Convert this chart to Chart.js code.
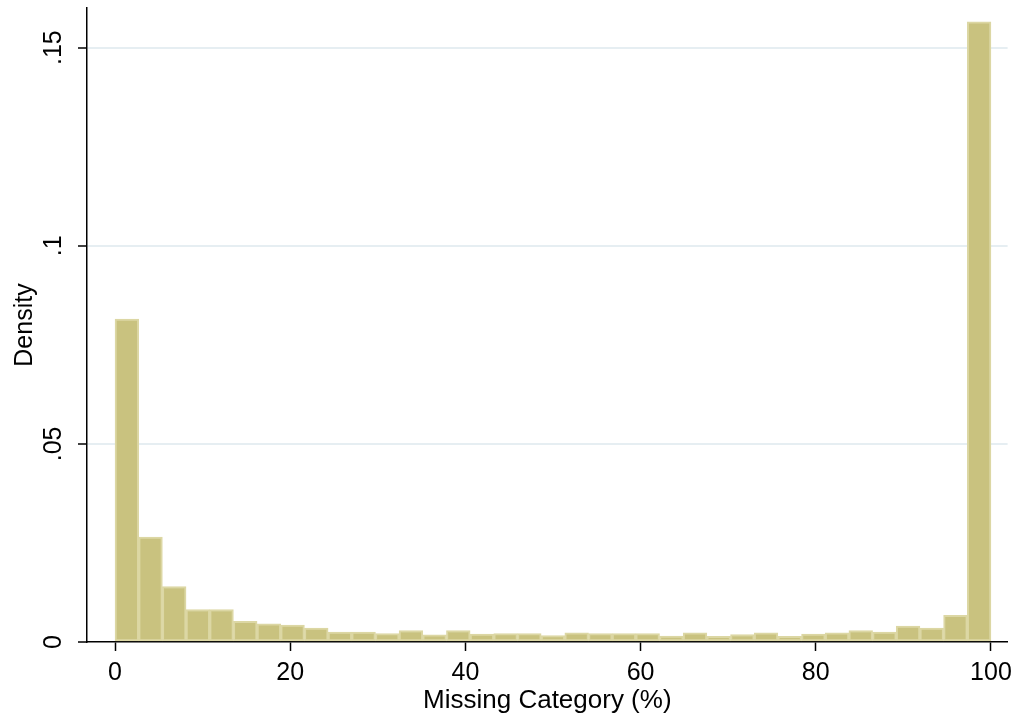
<!DOCTYPE html>
<html>
<head>
<meta charset="utf-8">
<title>Missing Category histogram</title>
<script src="https://cdn.jsdelivr.net/npm/chart.js@4.4.0/dist/chart.umd.min.js"></script>
<style>
  html, body { margin: 0; padding: 0; background: #ffffff; }
  #wrap { width: 1019px; height: 719px; }
</style>
</head>
<body>
<div id="wrap"><canvas id="hist" width="1019" height="719"></canvas></div>
<script>
// Histogram of the share of missing category (%), 37 equal-width bins over 0-100.
const binStart = 0;
const binEnd = 100;
const densities = [
  0.0815, 0.0265, 0.0140, 0.0082, 0.0082, 0.0052, 0.0046, 0.0043, 0.0035, 0.0025,
  0.0025, 0.0021, 0.0029, 0.0018, 0.0029, 0.0020, 0.0021, 0.0021, 0.0016, 0.0023,
  0.0021, 0.0021, 0.0021, 0.0015, 0.0023, 0.0014, 0.0019, 0.0023, 0.0014, 0.0020,
  0.0023, 0.0029, 0.0025, 0.0040, 0.0035, 0.0067, 0.1565
];
const xTicks = [0, 20, 40, 60, 80, 100];
const yTicks = [0, 0.05, 0.10, 0.15];
const yTickLabels = ['0', '.05', '.1', '.15'];
const xTitle = 'Missing Category (%)';
const yTitle = 'Density';

const binWidth = (binEnd - binStart) / densities.length;
const binCenters = densities.map((_, i) => binStart + (i + 0.5) * binWidth);

const FONT = '"Liberation Sans", Arial, sans-serif';

// Vertical (bottom-to-top) y tick labels
const yLabelPlugin = {
  id: 'yLabels',
  afterDraw(chart) {
    const s = chart.scales.y;
    const c = chart.ctx;
    c.save();
    c.font = '25px ' + FONT;
    c.fillStyle = '#000000';
    c.textAlign = 'center';
    c.textBaseline = 'middle';
    yTicks.forEach((v, i) => {
      const y = s.getPixelForValue(v);
      c.save();
      c.translate(54, y);
      c.rotate(-Math.PI / 2);
      c.fillText(yTickLabels[i], 0, 0);
      c.restore();
    });
    c.restore();
  }
};

new Chart(document.getElementById('hist'), {
  type: 'bar',
  data: {
    datasets: [{
      data: densities.map((d, i) => ({ x: binCenters[i], y: d })),
      backgroundColor: '#C9C27F',
      borderColor: '#DCD7A4',
      borderWidth: 2,
      borderSkipped: false,
      barPercentage: 1,
      categoryPercentage: 1
    }]
  },
  options: {
    responsive: false,
    animation: false,
    layout: { padding: { top: 8, right: 11, bottom: 0, left: 0 } },
    plugins: {
      legend: { display: false },
      tooltip: { enabled: false }
    },
    scales: {
      x: {
        type: 'linear',
        min: -3.2,
        max: 101.9,
        offset: false,
        afterBuildTicks: s => { s.ticks = xTicks.map(v => ({ value: v })); },
        afterFit: s => { s.height = 77; },
        grid: {
          offset: false,
          drawOnChartArea: false,
          drawTicks: true,
          tickLength: 9,
          tickColor: '#000000',
          tickWidth: 1.5
        },
        border: { color: '#000000', width: 1.5 },
        ticks: {
          font: { family: FONT, size: 25 },
          color: '#000000',
          padding: 7,
          maxRotation: 0,
          autoSkip: false,
          callback: v => String(v)
        },
        title: {
          display: true,
          text: xTitle,
          color: '#000000',
          font: { family: FONT, size: 26 },
          padding: { top: 0, bottom: 3 }
        }
      },
      y: {
        min: 0,
        max: 0.16,
        afterBuildTicks: s => { s.ticks = yTicks.map(v => ({ value: v })); },
        afterFit: s => { s.width = 87; },
        grid: {
          color: c => (c.tick && c.tick.value === 0) ? 'rgba(0,0,0,0)' : '#E6EEF2',
          lineWidth: 2,
          drawTicks: true,
          tickLength: 9,
          tickColor: '#000000',
          tickWidth: 1.5
        },
        border: { color: '#000000', width: 1.5 },
        ticks: { display: false },
        title: {
          display: true,
          text: yTitle,
          color: '#000000',
          font: { family: FONT, size: 25 },
          padding: { top: 10, bottom: 0 }
        }
      }
    }
  },
  plugins: [yLabelPlugin]
});
</script>
</body>
</html>
